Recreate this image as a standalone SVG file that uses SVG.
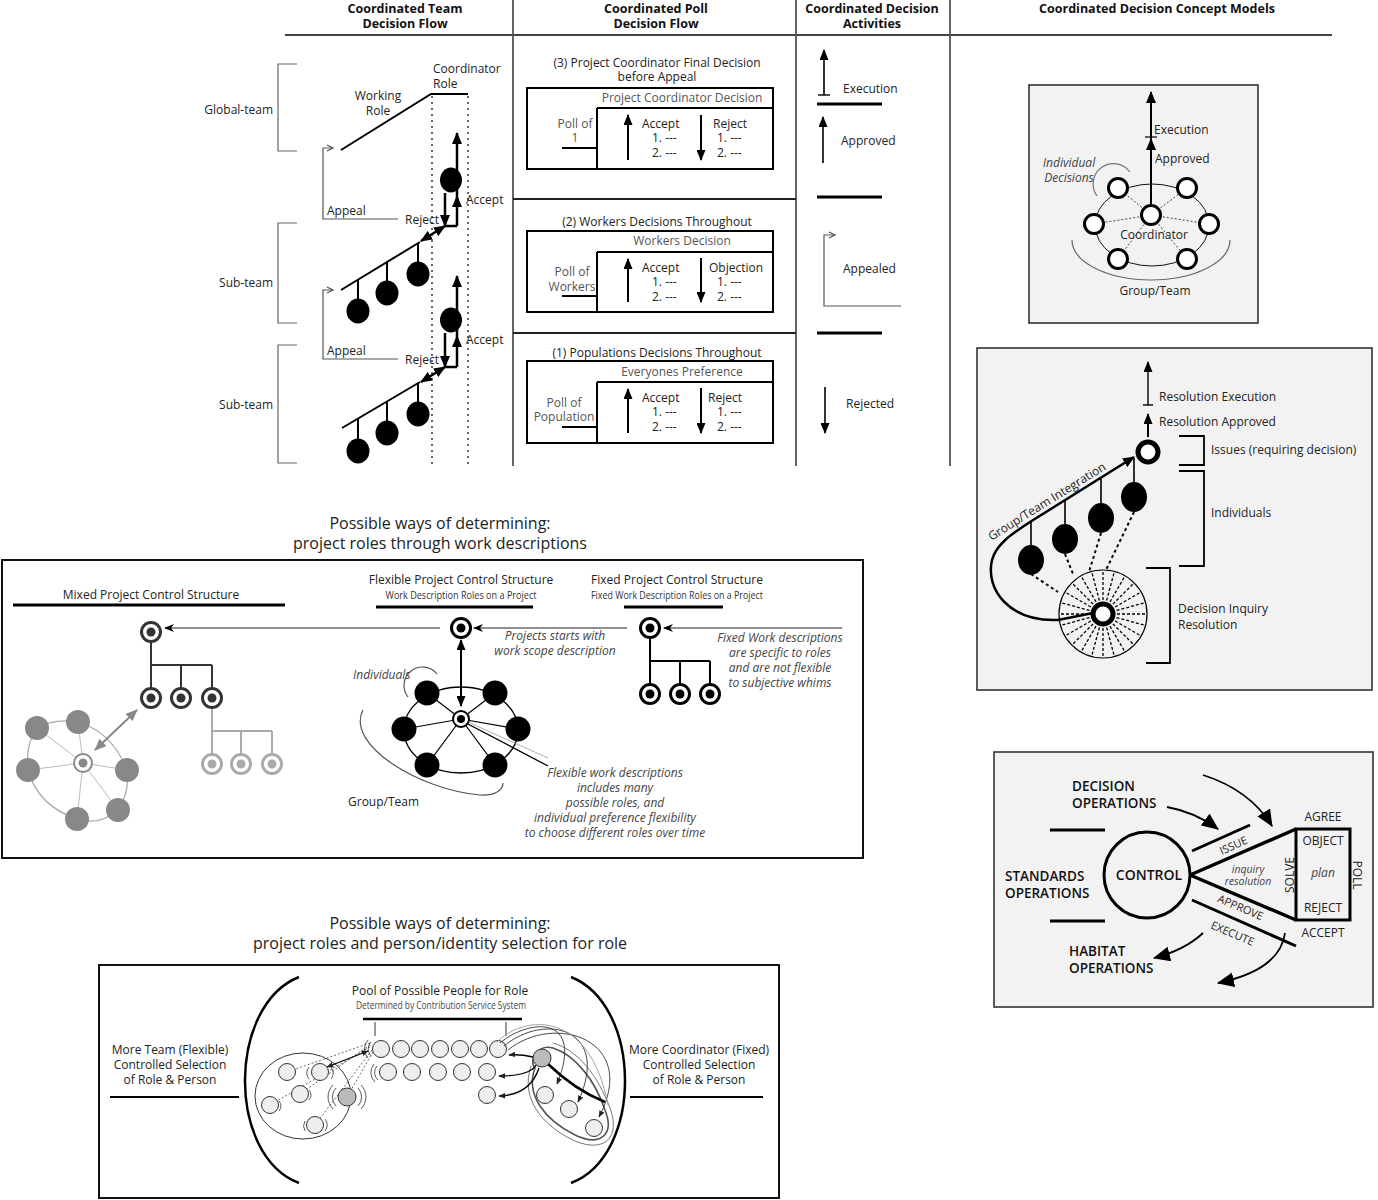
<svg xmlns="http://www.w3.org/2000/svg" width="1378" height="1200" viewBox="0 0 1378 1200">
<style>
text{font-family:'Open Sans','Liberation Sans',sans-serif;font-size:12px;fill:#222}
.h{font-weight:700;font-size:12.5px;fill:#111}
.m{text-anchor:middle}
.e{text-anchor:end}
.g{fill:#555}
.i{font-style:italic;fill:#444}
.big{font-size:16px}
.cap{font-weight:600;font-size:13.5px;fill:#111}
.sm{font-size:11px}
.ln{fill:none;stroke:#000}
</style>
<defs>
<marker id="ah" viewBox="0 0 12 10" refX="11" refY="5" markerWidth="12" markerHeight="10" orient="auto-start-reverse" markerUnits="userSpaceOnUse"><path d="M0,0 L12,5 L0,10 z" fill="#000"/></marker>
<marker id="ahm" viewBox="0 0 12 10" refX="11" refY="5" markerWidth="11" markerHeight="9" orient="auto-start-reverse" markerUnits="userSpaceOnUse"><path d="M0,0 L12,5 L0,10 z" fill="#000"/></marker>
<marker id="ahg" viewBox="0 0 12 10" refX="11" refY="5" markerWidth="12" markerHeight="10" orient="auto-start-reverse" markerUnits="userSpaceOnUse"><path d="M0,0 L12,5 L0,10 z" fill="#888"/></marker>
<marker id="ahs" viewBox="0 0 10 8" refX="9" refY="4" markerWidth="10" markerHeight="8" orient="auto" markerUnits="userSpaceOnUse"><path d="M0,0 L10,4 L0,8 L3,4 z" fill="#000"/></marker>
<marker id="aht" viewBox="0 0 10 8" refX="9" refY="4" markerWidth="7" markerHeight="6" orient="auto-start-reverse" markerUnits="userSpaceOnUse"><path d="M0,0 L10,4 L0,8 z" fill="#222"/></marker>
<marker id="ahb" viewBox="0 0 16 14" refX="15" refY="7" markerWidth="17" markerHeight="15" orient="auto" markerUnits="userSpaceOnUse"><path d="M0,0 L16,7 L0,14 z" fill="#000"/></marker>
<marker id="ao" viewBox="0 0 8 8" refX="7" refY="4" markerWidth="8" markerHeight="8" orient="auto" markerUnits="userSpaceOnUse"><path d="M1,1 L7,4 L1,7" fill="none" stroke="#555" stroke-width="1.2"/></marker>
</defs>
<rect width="1378" height="1200" fill="#fff"/>

<!-- Header -->
<g id="header">
<text class="h m" x="405" y="13">Coordinated Team</text>
<text class="h m" x="405" y="28">Decision Flow</text>
<text class="h m" x="656" y="13">Coordinated Poll</text>
<text class="h m" x="656" y="28">Decision Flow</text>
<text class="h m" x="872" y="13">Coordinated Decision</text>
<text class="h m" x="872" y="28">Activities</text>
<text class="h m" x="1157" y="13">Coordinated Decision Concept Models</text>
<path d="M285 35 H1332" stroke="#444" stroke-width="1.8"/>
<path d="M513 0 V466 M796 0 V466 M950 0 V466" stroke="#555" stroke-width="1.8"/>
</g>

<!-- Team decision flow -->
<g id="team-flow">
<path d="M297 64 H278 V151 H297 M297 223 H278 V323 H297 M297 345 H278 V463 H297" fill="none" stroke="#666" stroke-width="1.2"/>
<text class="e" x="273" y="114">Global-team</text>
<text class="e" x="273" y="287">Sub-team</text>
<text class="e" x="273" y="409">Sub-team</text>
<path d="M341 150 L431 94 H468" class="ln" stroke-width="2"/>
<text class="m" x="378" y="100">Working</text>
<text class="m" x="378" y="115">Role</text>
<text x="433" y="73">Coordinator</text>
<text x="433" y="88">Role</text>
<path d="M432 96 V466 M468 96 V466" fill="none" stroke="#666" stroke-width="2" stroke-dasharray="2 4"/>
<g id="appeal-arrows" fill="none" stroke="#555" stroke-width="1.2">
<path d="M398 219 H323 V148 H333" marker-end="url(#ao)"/>
<path d="M398 359 H323 V290 H333" marker-end="url(#ao)"/>
</g>
<text x="327" y="215">Appeal</text>
<text x="327" y="355">Appeal</text>
<text x="405" y="224">Reject</text>
<text x="405" y="364">Reject</text>
<text x="466" y="204">Accept</text>
<text x="466" y="344">Accept</text>
<g id="coord-1">
<ellipse cx="451" cy="180" rx="11" ry="12.5" fill="#000"/>
<path d="M457 226 V196" class="ln" stroke-width="2.5" marker-end="url(#ah)"/>
<path d="M457 196 V133" class="ln" stroke-width="2.5" marker-end="url(#ah)"/>
<path d="M445 193 V226" class="ln" stroke-width="2.5" marker-end="url(#ah)"/>
<path d="M445 226 H457" class="ln" stroke-width="2.5"/>
<path d="M421 241 L445 226" class="ln" stroke-width="2.5" marker-start="url(#ah)" marker-end="url(#ah)"/>
</g>
<g id="subteam-1">
<path d="M341 290 L420 242" class="ln" stroke-width="2"/>
<path d="M358 280 V300 M387 262 V282 M418 243 V263" class="ln" stroke-width="2"/>
<ellipse cx="358" cy="311" rx="11.5" ry="12.5"/>
<ellipse cx="387" cy="293" rx="11.5" ry="12.5"/>
<ellipse cx="418" cy="274" rx="11.5" ry="12.5"/>
</g>
<g id="coord-2">
<ellipse cx="451" cy="320" rx="11" ry="12.5" fill="#000"/>
<path d="M457 367 V336" class="ln" stroke-width="2.5" marker-end="url(#ah)"/>
<path d="M457 336 V276" class="ln" stroke-width="2.5" marker-end="url(#ah)"/>
<path d="M445 333 V367" class="ln" stroke-width="2.5" marker-end="url(#ah)"/>
<path d="M445 367 H457" class="ln" stroke-width="2.5"/>
<path d="M421 382 L445 367" class="ln" stroke-width="2.5" marker-start="url(#ah)" marker-end="url(#ah)"/>
</g>
<g id="subteam-2">
<path d="M342 428 L420 382" class="ln" stroke-width="2"/>
<path d="M358 419 V440 M387 401 V422 M418 383 V403" class="ln" stroke-width="2"/>
<ellipse cx="358" cy="451" rx="11.5" ry="12.5"/>
<ellipse cx="387" cy="433" rx="11.5" ry="12.5"/>
<ellipse cx="418" cy="414" rx="11.5" ry="12.5"/>
</g>
</g>

<!-- Poll flow -->
<g id="poll-flow">
<path d="M513 199 H796 M513 333 H796" stroke="#222" stroke-width="2"/>
<g id="poll-3">
<text class="m" x="657" y="67">(3) Project Coordinator Final Decision</text>
<text class="m" x="657" y="81">before Appeal</text>
<rect x="527" y="88" width="246" height="81" class="ln" stroke-width="2"/>
<path d="M597 108 H773 M597 108 V169 M562 148 H597" class="ln" stroke-width="2"/>
<text class="m g" x="682" y="102">Project Coordinator Decision</text>
<text class="m g" x="575" y="128">Poll of</text>
<text class="m g" x="575" y="142">1</text>
<path d="M628 160 V115" class="ln" stroke-width="2" marker-end="url(#ahm)"/>
<path d="M701 115 V160" class="ln" stroke-width="2" marker-end="url(#ahm)"/>
<text x="642" y="128">Accept</text><text x="652" y="142">1. ---</text><text x="652" y="157">2. ---</text>
<text x="713" y="128">Reject</text><text x="717" y="142">1. ---</text><text x="717" y="157">2. ---</text>
</g>
<g id="poll-2">
<text class="m" x="657" y="226">(2) Workers Decisions Throughout</text>
<rect x="527" y="231" width="246" height="81" class="ln" stroke-width="2"/>
<path d="M597 252 H773 M597 252 V312 M562 296 H597" class="ln" stroke-width="2"/>
<text class="m g" x="682" y="245">Workers Decision</text>
<text class="m g" x="572" y="276">Poll of</text>
<text class="m g" x="572" y="291">Workers</text>
<path d="M628 302 V259" class="ln" stroke-width="2" marker-end="url(#ahm)"/>
<path d="M701 258 V302" class="ln" stroke-width="2" marker-end="url(#ahm)"/>
<text x="642" y="272">Accept</text><text x="652" y="286">1. ---</text><text x="652" y="301">2. ---</text>
<text x="709" y="272">Objection</text><text x="717" y="286">1. ---</text><text x="717" y="301">2. ---</text>
</g>
<g id="poll-1">
<text class="m" x="657" y="357">(1) Populations Decisions Throughout</text>
<rect x="527" y="361" width="246" height="82" class="ln" stroke-width="2"/>
<path d="M597 382 H773 M597 382 V443 M562 427 H597" class="ln" stroke-width="2"/>
<text class="m g" x="682" y="376">Everyones Preference</text>
<text class="m g" x="564" y="407">Poll of</text>
<text class="m g" x="564" y="421">Population</text>
<path d="M628 433 V389" class="ln" stroke-width="2" marker-end="url(#ahm)"/>
<path d="M701 388 V433" class="ln" stroke-width="2" marker-end="url(#ahm)"/>
<text x="642" y="402">Accept</text><text x="652" y="416">1. ---</text><text x="652" y="431">2. ---</text>
<text x="708" y="402">Reject</text><text x="717" y="416">1. ---</text><text x="717" y="431">2. ---</text>
</g>
</g>

<!-- Activities -->
<g id="activities">
<path d="M824 95 V50" class="ln" stroke-width="1.6" marker-end="url(#ahm)"/>
<path d="M818 95 H830" class="ln" stroke-width="1.4"/>
<text x="843" y="93">Execution</text>
<path d="M817 104 H882 M817 197 H882 M817 333 H882" stroke="#000" stroke-width="3"/>
<path d="M823 163 V117" class="ln" stroke-width="1.6" marker-end="url(#ahm)"/>
<text x="841" y="145">Approved</text>
<path d="M901 306 H824 V235 H835" fill="none" stroke="#555" stroke-width="1.2" marker-end="url(#ao)"/>
<text x="843" y="273">Appealed</text>
<path d="M825 387 V433" class="ln" stroke-width="1.6" marker-end="url(#ahm)"/>
<text x="846" y="408">Rejected</text>
</g>

<!-- Concept model 1 -->
<g id="concept-1">
<rect x="1029" y="85" width="229" height="238" fill="#f2f2f2" stroke="#333" stroke-width="1.6"/>
<path d="M1072 240 A79 40 0 0 0 1230 240" fill="none" stroke="#666" stroke-width="1.2"/>
<ellipse cx="1152" cy="225" rx="57" ry="41" fill="none" stroke="#111" stroke-width="1"/>
<path d="M1151 215 L1118 188 M1151 215 L1187 188 M1151 215 L1094 224 M1151 215 L1209 224 M1151 215 L1118 259 M1151 215 L1187 259" stroke="#444" stroke-width="1" stroke-dasharray="2 2"/>
<path d="M1151 205 V139" class="ln" stroke-width="2" marker-end="url(#ah)"/>
<path d="M1151 139 V92" class="ln" stroke-width="2" marker-end="url(#ah)"/>
<path d="M1145 137 H1157" class="ln" stroke-width="1.2"/>
<path d="M1097 196 A18 18 0 0 1 1130 172" fill="none" stroke="#777" stroke-width="1.2"/>
<g fill="#fff" stroke="#000" stroke-width="3">
<circle cx="1151" cy="215" r="9.5"/>
<circle cx="1118" cy="188" r="9.5"/><circle cx="1187" cy="188" r="9.5"/>
<circle cx="1094" cy="224" r="9.5"/><circle cx="1209" cy="224" r="9.5"/>
<circle cx="1118" cy="259" r="9.5"/><circle cx="1187" cy="259" r="9.5"/>
</g>
<text x="1154" y="134">Execution</text>
<text x="1155" y="163">Approved</text>
<text class="m i" x="1069" y="167">Individual</text>
<text class="m i" x="1069" y="182">Decisions</text>
<text class="m" x="1154" y="239">Coordinator</text>
<text class="m" x="1155" y="295">Group/Team</text>
</g>

<!-- Concept model 2 -->
<g id="concept-2">
<rect x="977" y="348" width="395" height="342" fill="#f2f2f2" stroke="#333" stroke-width="1.6"/>
<path d="M1148 405 V362" class="ln" stroke-width="1.4" marker-end="url(#ahm)"/>
<path d="M1143 405 H1153" class="ln" stroke-width="1.4"/>
<path d="M1148 437 V414" class="ln" stroke-width="2" marker-end="url(#ahm)"/>
<text x="1159" y="401">Resolution Execution</text>
<text x="1159" y="426">Resolution Approved</text>
<path d="M1179 436 H1204 V465 H1179 M1179 471 H1204 V566 H1179 M1146 568 H1170 V663 H1146" fill="none" stroke="#000" stroke-width="1.8"/>
<text x="1211" y="454">Issues (requiring decision)</text>
<text x="1211" y="517">Individuals</text>
<text x="1178" y="613">Decision Inquiry</text>
<text x="1178" y="629">Resolution</text>
<circle cx="1103" cy="614" r="44" fill="none" stroke="#000" stroke-width="1.2"/>
<g stroke="#000" stroke-width="1.3" stroke-dasharray="3 2">
<line x1="1117" y1="614" x2="1146" y2="614"/>
<line x1="1117" y1="614" x2="1146" y2="614" transform="rotate(15 1103 614)"/>
<line x1="1117" y1="614" x2="1146" y2="614" transform="rotate(30 1103 614)"/>
<line x1="1117" y1="614" x2="1146" y2="614" transform="rotate(45 1103 614)"/>
<line x1="1117" y1="614" x2="1146" y2="614" transform="rotate(60 1103 614)"/>
<line x1="1117" y1="614" x2="1146" y2="614" transform="rotate(75 1103 614)"/>
<line x1="1117" y1="614" x2="1146" y2="614" transform="rotate(90 1103 614)"/>
<line x1="1117" y1="614" x2="1146" y2="614" transform="rotate(105 1103 614)"/>
<line x1="1117" y1="614" x2="1146" y2="614" transform="rotate(120 1103 614)"/>
<line x1="1117" y1="614" x2="1146" y2="614" transform="rotate(135 1103 614)"/>
<line x1="1117" y1="614" x2="1146" y2="614" transform="rotate(150 1103 614)"/>
<line x1="1117" y1="614" x2="1146" y2="614" transform="rotate(165 1103 614)"/>
<line x1="1117" y1="614" x2="1146" y2="614" transform="rotate(180 1103 614)"/>
<line x1="1117" y1="614" x2="1146" y2="614" transform="rotate(195 1103 614)"/>
<line x1="1117" y1="614" x2="1146" y2="614" transform="rotate(210 1103 614)"/>
<line x1="1117" y1="614" x2="1146" y2="614" transform="rotate(225 1103 614)"/>
<line x1="1117" y1="614" x2="1146" y2="614" transform="rotate(240 1103 614)"/>
<line x1="1117" y1="614" x2="1146" y2="614" transform="rotate(255 1103 614)"/>
<line x1="1117" y1="614" x2="1146" y2="614" transform="rotate(270 1103 614)"/>
<line x1="1117" y1="614" x2="1146" y2="614" transform="rotate(285 1103 614)"/>
<line x1="1117" y1="614" x2="1146" y2="614" transform="rotate(300 1103 614)"/>
<line x1="1117" y1="614" x2="1146" y2="614" transform="rotate(315 1103 614)"/>
<line x1="1117" y1="614" x2="1146" y2="614" transform="rotate(330 1103 614)"/>
<line x1="1117" y1="614" x2="1146" y2="614" transform="rotate(345 1103 614)"/>
</g>
<path d="M1031 574 L1058 592 M1065 554 L1073 574 M1101 533 L1089 572 M1134 512 L1106 570" stroke="#000" stroke-width="2" stroke-dasharray="3 3"/>
<path d="M1093 613 L1058 620 C1010 622 985 590 992 560 C996 545 1010 535 1030 522 L1134 457" fill="none" stroke="#000" stroke-width="2.5" marker-end="url(#ah)"/>
<path d="M1031 521 V545 M1065 500 V524 M1101 478 V503 M1134 458 V482" stroke="#000" stroke-width="1.6"/>
<ellipse cx="1031" cy="560" rx="13" ry="15"/>
<ellipse cx="1065" cy="539" rx="13" ry="15"/>
<ellipse cx="1101" cy="518" rx="13" ry="15"/>
<ellipse cx="1134" cy="497" rx="13" ry="15"/>
<circle cx="1148" cy="452" r="10" fill="#fff" stroke="#000" stroke-width="5"/>
<circle cx="1103" cy="614" r="10" fill="#fff" stroke="#000" stroke-width="5"/>
<text class="m" transform="translate(1049 505) rotate(-32)">Group/Team Integration</text>
</g>

<!-- Control diagram -->
<g id="control">
<rect x="994" y="752" width="379" height="255" fill="#f2f2f2" stroke="#333" stroke-width="1.6"/>
<circle cx="1147" cy="875" r="43" fill="none" stroke="#000" stroke-width="3"/>
<path d="M1190 875 L1296 829 M1190 875 L1296 920" stroke="#000" stroke-width="3.5"/>
<rect x="1296" y="829" width="54" height="91" fill="none" stroke="#000" stroke-width="3"/>
<path d="M1192 851 L1250 825 M1192 900 L1296 946" stroke="#000" stroke-width="3"/>
<path d="M1050 830 H1105 M1050 921 H1105" stroke="#000" stroke-width="3"/>
<g fill="none" stroke="#000" stroke-width="1.8">
<path d="M1167 807 Q1195 812 1218 829" marker-end="url(#ahb)"/>
<path d="M1203 775 Q1250 790 1272 826" marker-end="url(#ahb)"/>
<path d="M1203 933 Q1185 950 1154 958" marker-end="url(#ahb)"/>
<path d="M1285 933 Q1280 970 1218 983" marker-end="url(#ahb)"/>
</g>
<text class="cap" x="1072" y="791">DECISION</text>
<text class="cap" x="1072" y="808">OPERATIONS</text>
<text class="cap" x="1005" y="881">STANDARDS</text>
<text class="cap" x="1005" y="898">OPERATIONS</text>
<text class="cap" x="1069" y="956">HABITAT</text>
<text class="cap" x="1069" y="973">OPERATIONS</text>
<text class="cap m" x="1149" y="880" style="font-size:14px">CONTROL</text>
<text class="m" x="1323" y="821">AGREE</text>
<text class="m" x="1323" y="845">OBJECT</text>
<text class="m i" x="1323" y="877">plan</text>
<text class="m" x="1323" y="912">REJECT</text>
<text class="m" x="1323" y="937">ACCEPT</text>
<text class="m i" x="1248" y="873" style="font-size:10.5px">inquiry</text>
<text class="m i" x="1248" y="885" style="font-size:10.5px">resolution</text>
<text class="m" transform="translate(1294 875) rotate(-90)">SOLVE</text>
<text class="m" transform="translate(1353 875) rotate(90)">POLL</text>
<text class="m sm" transform="translate(1235 849) rotate(-24)">ISSUE</text>
<text class="m sm" transform="translate(1239 911) rotate(23)">APPROVE</text>
<text class="m sm" transform="translate(1231 937) rotate(23)">EXECUTE</text>
</g>

<!-- Middle section -->
<g id="work-descriptions">
<text class="m big" x="440" y="529">Possible ways of determining:</text>
<text class="m big" x="440" y="549">project roles through work descriptions</text>
<rect x="2" y="560" width="861" height="298" fill="none" stroke="#111" stroke-width="2"/>
<text class="m" x="151" y="599">Mixed Project Control Structure</text>
<path d="M13 605 H285" stroke="#000" stroke-width="3"/>
<text class="m" x="461" y="584">Flexible Project Control Structure</text>
<text class="m" x="461" y="599" style="font-size:11px;fill:#333" textLength="151" lengthAdjust="spacingAndGlyphs">Work Description Roles on a Project</text>
<path d="M376 607 H533" stroke="#000" stroke-width="3"/>
<text class="m" x="677" y="584">Fixed Project Control Structure</text>
<text class="m" x="677" y="599" style="font-size:11px;fill:#333" textLength="172" lengthAdjust="spacingAndGlyphs">Fixed Work Description Roles on a Project</text>
<path d="M624 607 H723" stroke="#000" stroke-width="3"/>
<g id="md-connectors" fill="none" stroke="#222" stroke-width="1.2">
<path d="M842 628 H664" marker-end="url(#ahs)"/>
<path d="M627 628 H474" marker-end="url(#ahs)"/>
<path d="M440 628 H165" marker-end="url(#ahs)"/>
</g>
<text class="m i" x="555" y="640">Projects starts with</text>
<text class="m i" x="555" y="655">work scope description</text>
<text class="m i" x="780" y="642">Fixed Work descriptions</text>
<text class="m i" x="780" y="657">are specific to roles</text>
<text class="m i" x="780" y="672">and are not flexible</text>
<text class="m i" x="780" y="687">to subjective whims</text>
<g id="fixed-tree">
<path d="M650 628 V661 M650 661 H710 M650 661 V694 M680 661 V694 M710 661 V694" fill="none" stroke="#000" stroke-width="2"/>
<g fill="#fff" stroke="#000" stroke-width="3">
<circle cx="650" cy="628" r="9.5"/><circle cx="650" cy="694" r="9.5"/><circle cx="680" cy="694" r="9.5"/><circle cx="710" cy="694" r="9.5"/>
</g>
<g fill="#000"><circle cx="650" cy="628" r="4.5"/><circle cx="650" cy="694" r="4.5"/><circle cx="680" cy="694" r="4.5"/><circle cx="710" cy="694" r="4.5"/></g>
</g>
<g id="flexible-team">
<path d="M363 710 C345 745 420 790 480 795 C495 796 503 790 503 783" fill="none" stroke="#555" stroke-width="1.2"/>
<path d="M408 697 A18 18 0 0 1 437 674" fill="none" stroke="#555" stroke-width="1.2"/>
<ellipse cx="461" cy="730" rx="57" ry="43" fill="none" stroke="#000" stroke-width="1.3"/>
<path d="M461 719 L427 693 M461 719 L495 693 M461 719 L404 729 M461 719 L518 729 M461 719 L427 765 M461 719 L495 765" stroke="#000" stroke-width="1.2"/>
<path d="M466 723 L548 766" stroke="#000" stroke-width="1.3"/>
<path d="M468 722 L548 758" stroke="#999" stroke-width="0.8"/>
<g fill="#000"><circle cx="427" cy="693" r="12.5"/><circle cx="495" cy="693" r="12.5"/><circle cx="404" cy="729" r="12.5"/><circle cx="518" cy="729" r="12.5"/><circle cx="427" cy="765" r="12.5"/><circle cx="495" cy="765" r="12.5"/></g>
<path d="M461 640 V706" fill="none" stroke="#000" stroke-width="2" marker-start="url(#ahm)" marker-end="url(#ahm)"/>
<circle cx="461" cy="719" r="8" fill="#fff" stroke="#000" stroke-width="2"/>
<circle cx="461" cy="719" r="4" fill="#000"/>
<circle cx="461" cy="628" r="9.5" fill="#fff" stroke="#000" stroke-width="3"/>
<circle cx="461" cy="628" r="4.5" fill="#000"/>
</g>
<text class="i" x="353" y="679">Individuals</text>
<text x="348" y="806">Group/Team</text>
<text class="m i" x="615" y="777">Flexible work descriptions</text>
<text class="m i" x="615" y="792">includes many</text>
<text class="m i" x="615" y="807">possible roles, and</text>
<text class="m i" x="615" y="822">individual preference flexibility</text>
<text class="m i" x="615" y="837">to choose different roles over time</text>
<g id="mixed-tree">
<path d="M151 632 V665 H212 M151 665 V698 M181 665 V698 M212 665 V698" fill="none" stroke="#333" stroke-width="2"/>
<path d="M212 698 V731 H272 M212 731 V764 M241 731 V764 M272 731 V764" fill="none" stroke="#aaa" stroke-width="2"/>
<g fill="#fff" stroke="#333" stroke-width="3"><circle cx="151" cy="632" r="9.5"/><circle cx="151" cy="698" r="9.5"/><circle cx="181" cy="698" r="9.5"/><circle cx="212" cy="698" r="9.5"/></g>
<g fill="#333"><circle cx="151" cy="632" r="4.5"/><circle cx="151" cy="698" r="4.5"/><circle cx="181" cy="698" r="4.5"/><circle cx="212" cy="698" r="4.5"/></g>
<g fill="#fff" stroke="#aaa" stroke-width="3"><circle cx="212" cy="764" r="9.5"/><circle cx="241" cy="764" r="9.5"/><circle cx="272" cy="764" r="9.5"/></g>
<g fill="#aaa"><circle cx="212" cy="764" r="4.5"/><circle cx="241" cy="764" r="4.5"/><circle cx="272" cy="764" r="4.5"/></g>
</g>
<g id="mixed-team">
<path d="M37 728 Q55 718 78 722 Q112 732 127 770 Q130 792 118 810 Q100 826 77 819 Q38 806 28 770 Q25 745 37 728 Z" fill="none" stroke="#aaa" stroke-width="1.3"/>
<path d="M83 763 L37 728 M83 763 L78 722 M83 763 L28 770 M83 763 L127 770 M83 763 L118 810 M83 763 L77 819" stroke="#bbb" stroke-width="1"/>
<g fill="#888"><circle cx="37" cy="728" r="12"/><circle cx="78" cy="722" r="12"/><circle cx="28" cy="770" r="12"/><circle cx="127" cy="770" r="12"/><circle cx="118" cy="810" r="12"/><circle cx="77" cy="819" r="12"/></g>
<circle cx="83" cy="763" r="9" fill="#fff" stroke="#888" stroke-width="2"/>
<circle cx="83" cy="763" r="4.5" fill="#888"/>
<path d="M137 710 L95 750" fill="none" stroke="#888" stroke-width="2" marker-start="url(#ahg)" marker-end="url(#ahg)"/>
</g>
</g>

<!-- Bottom section -->
<g id="selection">
<text class="m big" x="440" y="929">Possible ways of determining:</text>
<text class="m big" x="440" y="949">project roles and person/identity selection for role</text>
<rect x="99" y="965" width="680" height="233" fill="none" stroke="#111" stroke-width="2"/>
<path d="M299 977 C228 1005 226 1155 299 1183" fill="none" stroke="#000" stroke-width="2.5"/>
<path d="M571 977 C642 1005 644 1155 571 1183" fill="none" stroke="#000" stroke-width="2.5"/>
<path d="M110 1097 H239 M630 1097 H763" stroke="#000" stroke-width="2"/>
<text class="m" x="170" y="1054">More Team (Flexible)</text>
<text class="m" x="170" y="1069">Controlled Selection</text>
<text class="m" x="170" y="1084">of Role &amp; Person</text>
<text class="m" x="699" y="1054">More Coordinator (Fixed)</text>
<text class="m" x="699" y="1069">Controlled Selection</text>
<text class="m" x="699" y="1084">of Role &amp; Person</text>
<text class="m" x="440" y="995">Pool of Possible People for Role</text>
<text class="m" x="441" y="1009" style="font-size:10px;fill:#444" textLength="170" lengthAdjust="spacingAndGlyphs">Determined by Contribution Service System</text>
<path d="M363 1019 H522" stroke="#000" stroke-width="2.5"/>
<path d="M375 1022 V1036 M506 1022 V1036" stroke="#333" stroke-width="1"/>
<g id="pool" fill="#eee" stroke="#333" stroke-width="1">
<circle cx="381" cy="1049" r="8.5"/><circle cx="401" cy="1049" r="8.5"/><circle cx="420" cy="1049" r="8.5"/><circle cx="440" cy="1049" r="8.5"/><circle cx="460" cy="1049" r="8.5"/><circle cx="479" cy="1049" r="8.5"/><circle cx="498" cy="1049" r="8.5"/>
<circle cx="388" cy="1072" r="8.5"/><circle cx="412" cy="1072" r="8.5"/><circle cx="438" cy="1072" r="8.5"/><circle cx="462" cy="1072" r="8.5"/><circle cx="487" cy="1072" r="8.5"/>
<circle cx="487" cy="1095" r="8.5"/>
</g>
<g id="team-cluster">
<ellipse cx="303" cy="1096" rx="48" ry="43" fill="none" stroke="#333" stroke-width="1"/>
<path d="M370 1043 L287 1072 M370 1045 L300 1094 M370 1047 L270 1105 M372 1050 L315 1125 M373 1052 L347 1097" stroke="#444" stroke-width="0.8" stroke-dasharray="2 2"/>
<path d="M327 1067 L368 1051" fill="none" stroke="#000" stroke-width="1.2" marker-start="url(#aht)" marker-end="url(#aht)"/>
<g fill="#eee" stroke="#333" stroke-width="1">
<circle cx="287" cy="1072" r="8.5"/><circle cx="320" cy="1072" r="8.5"/><circle cx="300" cy="1094" r="8.5"/><circle cx="270" cy="1105" r="8.5"/><circle cx="315" cy="1125" r="8.5"/>
</g>
<circle cx="347" cy="1097" r="9" fill="#bbb" stroke="#333" stroke-width="1"/>
<g fill="none" stroke="#333" stroke-width="0.8">
<path d="M336 1088 A13 13 0 0 0 336 1106 M333 1085 A17 17 0 0 0 333 1109 M358 1088 A13 13 0 0 1 358 1106 M361 1085 A17 17 0 0 1 361 1109"/>
<path d="M371 1042 A10 10 0 0 0 371 1056 M368 1040 A13 13 0 0 0 368 1058 M377 1066 A10 10 0 0 0 378 1080 M374 1064 A13 13 0 0 0 375 1082"/>
<path d="M309 1067 A10 10 0 0 0 309 1079 M331 1067 A10 10 0 0 1 331 1079 M279 1101 A8 8 0 0 1 279 1111 M305 1121 A10 10 0 0 0 305 1131 M325 1119 A10 10 0 0 1 325 1131 M309 1090 A8 8 0 0 1 309 1100"/>
</g>
</g>
<g id="coordinator-cluster">
<path d="M535 1068 C525 1095 545 1120 575 1135 C600 1147 615 1135 605 1110 C595 1080 575 1055 553 1048 C538 1044 528 1060 535 1068 Z" fill="none" stroke="#555" stroke-width="1.6"/>
<path d="M531 1066 C520 1098 542 1126 575 1141 C604 1153 621 1138 610 1108 C598 1076 578 1050 553 1043" fill="none" stroke="#777" stroke-width="1"/>
<g fill="none" stroke="#333" stroke-width="0.9">
<path d="M500 1043 C530 1018 585 1015 557 1084" marker-end="url(#aht)"/>
<path d="M504 1046 C545 1012 612 1028 578 1102" marker-end="url(#aht)"/>
<path d="M508 1050 C555 1012 640 1040 599 1117" marker-end="url(#aht)"/>
<path d="M497 1042 C525 1014 590 1010 608 1105" stroke="#999"/>
</g>
<g fill="none" stroke="#000" stroke-width="1.4">
<path d="M533 1057 Q520 1054 509 1055" marker-end="url(#aht)"/>
<path d="M536 1065 Q530 1076 499 1076" marker-end="url(#aht)"/>
<path d="M539 1068 Q530 1095 499 1096" marker-end="url(#aht)"/>
</g>
<path d="M548 1064 Q575 1090 605 1102" fill="none" stroke="#000" stroke-width="2.5"/>
<g fill="#eee" stroke="#333" stroke-width="1"><circle cx="545" cy="1095" r="8.5"/><circle cx="569" cy="1109" r="8.5"/><circle cx="594" cy="1128" r="8.5"/></g>
<circle cx="542" cy="1058" r="9" fill="#bbb" stroke="#333" stroke-width="1"/>
</g>
</g>
</svg>
